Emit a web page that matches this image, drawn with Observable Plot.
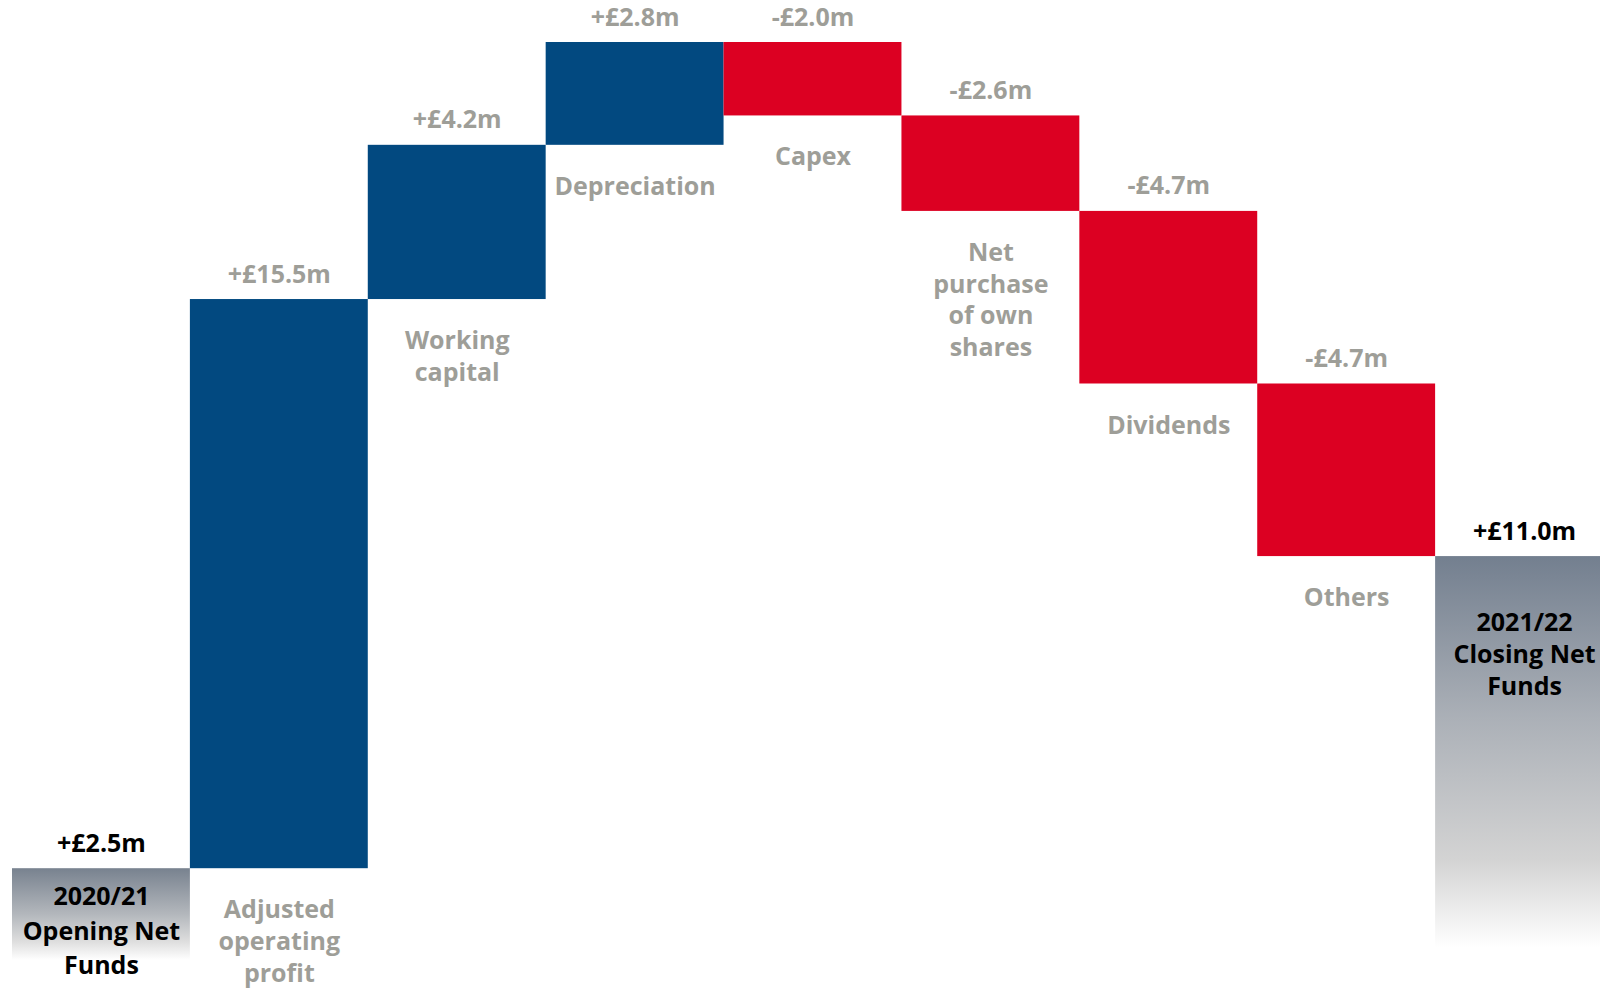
<!DOCTYPE html>
<html><head><meta charset="utf-8">
<script src="https://cdn.jsdelivr.net/npm/d3@7"></script>
<script src="https://cdn.jsdelivr.net/npm/@observablehq/plot@0.6"></script>
<style>html,body{margin:0;padding:0;background:#fff;overflow:hidden}</style>
</head><body><div id="chart"></div>
<script>
const categories = ["Opening", "Adjusted operating profit", "Working capital", "Depreciation", "Capex", "Net purchase of own shares", "Dividends", "Others", "Closing"];
const labels = ["2020/21\nOpening Net\nFunds", "Adjusted\noperating\nprofit", "Working\ncapital", "Depreciation", "Capex", "Net\npurchase\nof own\nshares", "Dividends", "Others", "2021/22\nClosing Net\nFunds"];
const values = [2.5, 15.5, 4.2, 2.8, -2.0, -2.6, -4.7, -4.7, 11.0];
const kinds = ["total", "step", "step", "step", "step", "step", "step", "step", "total"];
const valueLabels = ["+£2.5m", "+£15.5m", "+£4.2m", "+£2.8m", "-£2.0m", "-£2.6m", "-£4.7m", "-£4.7m", "+£11.0m"];

let running = 0;
const data = categories.map((c, i) => {
  let start, end;
  if (kinds[i] === "total") { start = 0; end = values[i]; running = values[i]; }
  else { start = running; end = running + values[i]; running = end; }
  return {cat: c, label: labels[i], value: values[i], kind: kinds[i], vlabel: valueLabels[i], start, end, i};
});
const steps = data.filter(d => d.kind === "step");

const BLUE = "#024980", RED = "#dc0022", GRAY = "#9e9e98";
const FONT = "'Open Sans', sans-serif";

const chart = Plot.plot({
  width: 1600, height: 989,
  margin: 0,
  style: {fontFamily: FONT, background: "#fff", overflow: "hidden"},
  x: {domain: categories, range: [12, 1613], padding: 0, round: false, axis: null},
  y: {domain: [0, 25], range: [960, 42], axis: null},
  marks: [
    Plot.barY(data, {
      x: "cat", y1: "start", y2: "end",
      fill: d => d.kind === "total" ? (d.i === 0 ? "url(#gOpen)" : "url(#gClose)") : (d.value > 0 ? BLUE : RED),
      insetLeft: 0, insetRight: 0
    }),
    Plot.text(data, {
      x: "cat", y: d => Math.max(d.start, d.end), text: "vlabel",
      dy: -25, lineAnchor: "middle",
      fill: d => d.kind === "total" ? "#000" : GRAY,
      fontSize: 25, fontWeight: 700
    }),
    Plot.text(steps, {
      x: "cat", y: d => Math.min(d.start, d.end), text: "label",
      dy: 27, lineAnchor: "top", lineHeight: 1.27,
      fill: GRAY, fontSize: 25, fontWeight: 700
    }),
    Plot.text(data.filter(d => d.i === 0), {
      x: "cat", y: "end", text: "label",
      dy: 12, lineAnchor: "top", lineHeight: 1.38,
      fill: "#000", fontSize: 25, fontWeight: 700
    }),
    Plot.text(data.filter(d => d.i === data.length - 1), {
      x: "cat", y: "end", text: "label",
      dy: 52, lineAnchor: "top", lineHeight: 1.28,
      fill: "#000", fontSize: 25, fontWeight: 700
    })
  ]
});

const defs = d3.select(chart).insert("defs", ":first-child");
const gO = defs.append("linearGradient").attr("id", "gOpen").attr("x1", 0).attr("y1", 0).attr("x2", 0).attr("y2", 1);
[[0, "#78828f"], [0.5, "#b3b7bc"], [0.8, "#dedede"], [1, "#ffffff"]].forEach(([o, c]) => gO.append("stop").attr("offset", o).attr("stop-color", c));
const gC = defs.append("linearGradient").attr("id", "gClose").attr("x1", 0).attr("y1", 0).attr("x2", 0).attr("y2", 1);
[[0, "#737f8f"], [0.4, "#abb0b7"], [0.75, "#d3d3d3"], [0.97, "#ffffff"], [1, "#ffffff"]].forEach(([o, c]) => gC.append("stop").attr("offset", o).attr("stop-color", c));

document.getElementById("chart").appendChild(chart);
</script>
</body></html>
